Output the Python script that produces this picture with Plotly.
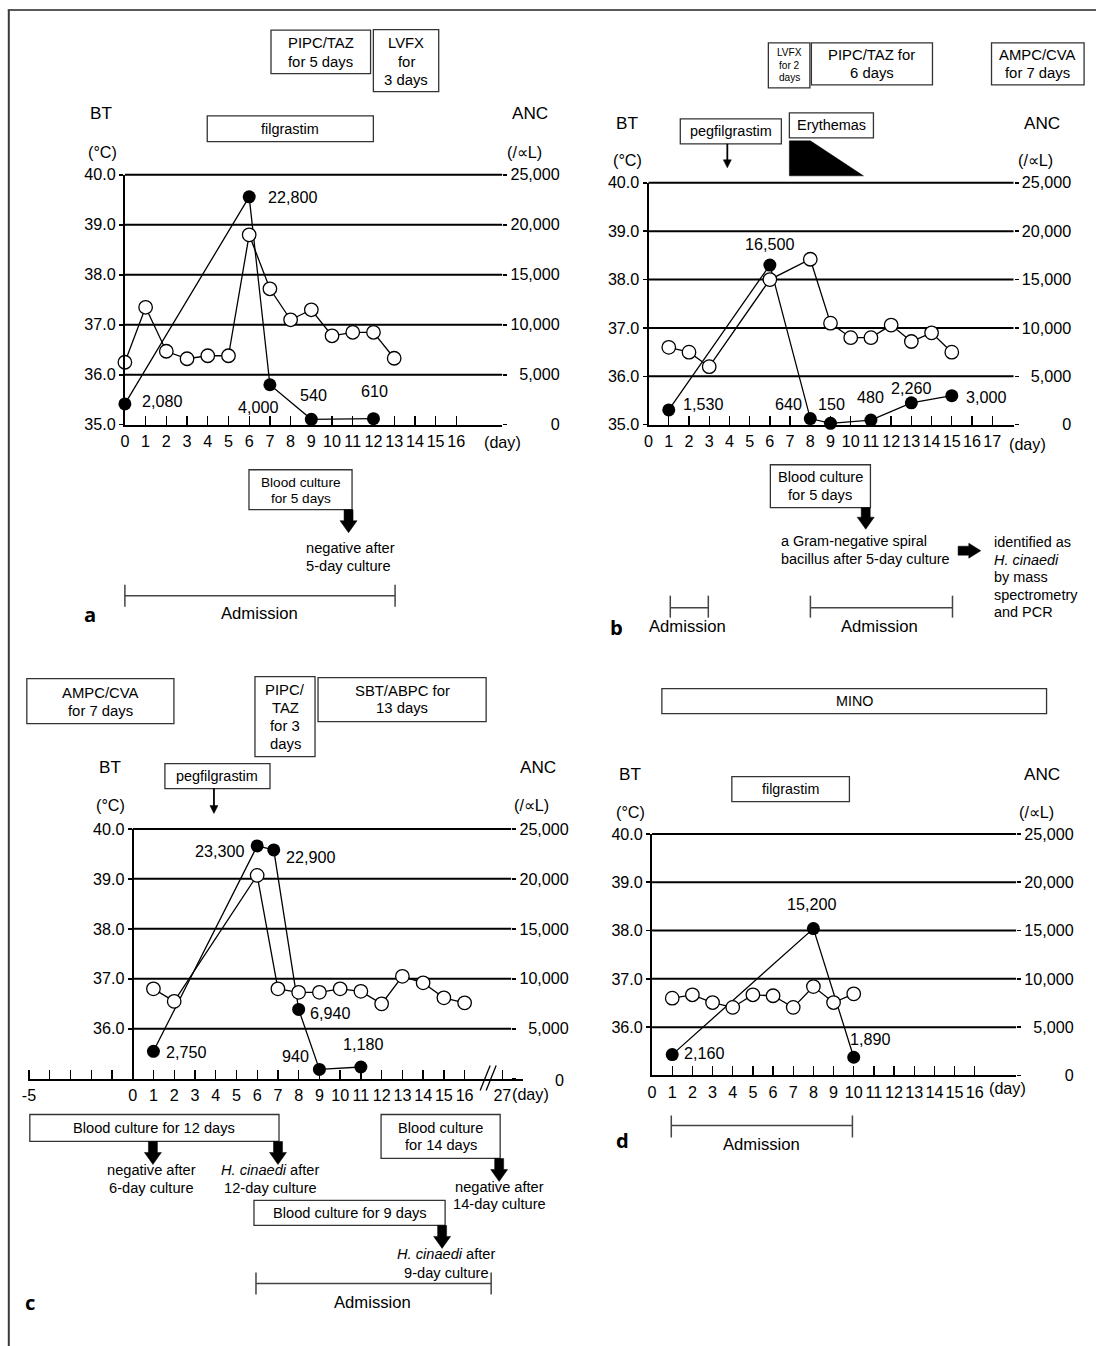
import plotly.graph_objects as go

W, H = 1096, 1346
# small correction so that the photographed page lines up with the target pixel grid
SX, OX = 0.9938, 6.2
SY, OY = 0.987, 8.1
FONT = "Liberation Sans, Arial, Helvetica, sans-serif"
BOLD_FONT = "Open Sans, Noto Sans, sans-serif"

# ---------------- data ----------------
# panel a
a_bt_day = [0, 1, 2, 3, 4, 5, 6, 7, 8, 9, 10, 11, 12, 13]
a_bt = [36.25, 37.35, 36.47, 36.32, 36.38, 36.38, 38.8, 37.72, 37.1, 37.3, 36.78, 36.85, 36.85, 36.33]
a_anc_day = [0, 6, 7, 9, 12]
a_anc = [2080, 22800, 4000, 540, 610]

# panel b
b_bt_day = [1, 2, 3, 6, 8, 9, 10, 11, 12, 13, 14, 15]
b_bt = [36.6, 36.5, 36.2, 38.0, 38.42, 37.1, 36.8, 36.8, 37.06, 36.72, 36.9, 36.5]
b_anc_day = [1, 6, 8, 9, 11, 13, 15]
b_anc = [1530, 16500, 640, 150, 480, 2260, 3000]

# panel c
c_bt_day = [1, 2, 6, 7, 8, 9, 10, 11, 12, 13, 14, 15, 16]
c_bt = [36.8, 36.55, 39.07, 36.8, 36.73, 36.73, 36.8, 36.75, 36.5, 37.05, 36.92, 36.62, 36.52]
c_anc_day = [1, 6, 6.8, 8, 9, 11]
c_anc = [2750, 23300, 22900, 6940, 940, 1180]

# panel d
d_bt_day = [1, 2, 3, 4, 5, 6, 7, 8, 9, 10]
d_bt = [36.6, 36.67, 36.51, 36.41, 36.67, 36.65, 36.41, 36.84, 36.51, 36.69]
d_anc_day = [1, 8, 10]
d_anc = [2160, 15200, 1890]

# axis ticks
a_day_ticks = list(range(0, 17))
b_day_ticks = list(range(0, 18))
d_day_ticks = list(range(0, 17))
c_day_ticks = [-5, -4, -3, -2, -1, 0] + list(range(1, 17)) + [17.82]
c_day_text = ["-5", "", "", "", "", "0"] + [str(i) for i in range(1, 17)] + ["27"]
bt_ticks_full = [35, 36, 37, 38, 39, 40]
bt_ticks_short = [36, 37, 38, 39, 40]
bt_grid = [36, 37, 38, 39, 40]
anc_ticks = [0, 5000, 10000, 15000, 20000, 25000]

# ---------------- geometry (target pixels) ----------------
GEOM = {
    "a": dict(x0=125.0, step=20.7, left=125.0, right=502.0, top=174.0, bottom=424.0, grid_right=502.0),
    "b": dict(x0=648.3, step=20.2, left=648.3, right=1013.0, top=182.0, bottom=424.0, grid_right=1013.0),
    "c": dict(x0=132.8, step=20.73, left=28.0, right=523.0, top=828.3, bottom=1078.3, grid_right=511.0),
    "d": dict(x0=651.8, step=20.15, left=651.8, right=1015.6, top=833.3, bottom=1075.0, grid_right=1015.6),
}


def FX(x):
    return ((x - OX) / SX) / W


def FY(y):
    return 1 - ((y - OY) / SY) / H


fig = go.Figure()
layout = {}
shapes = []
annotations = []


def fs(s):
    return round(s * 1.01, 2)


TICKFONT = dict(family=FONT, size=fs(16), color="black")
NBSP = "\u00a0"


def right_aligned(labels):
    # pad with no-break spaces (0.278 em) so that labels end flush on the right
    def width(s):
        return sum(0.556 if ch.isdigit() else 0.278 for ch in s)
    wmax = max(width(s) for s in labels)
    return [NBSP * int(round((wmax - width(s)) / 0.278)) + s for s in labels]


def text(x, y, s, size=14.5, anchor="center", family=FONT):
    annotations.append(dict(
        x=FX(x), y=FY(y), xref="paper", yref="paper", text=s, showarrow=False,
        xanchor=anchor, yanchor="middle", font=dict(family=family, size=fs(size), color="black")))


def setup_axes(key, xn, yan, ybn, xtickvals, xticktext, bt_ticks, free=False):
    g = GEOM[key]
    xname = "xaxis" if xn == 1 else f"xaxis{xn}"
    xref = "x" if xn == 1 else f"x{xn}"
    yan_name = "yaxis" if yan == 1 else f"yaxis{yan}"
    yan_ref = "y" if yan == 1 else f"y{yan}"
    ybn_name = f"yaxis{ybn}"
    rng = [(g["left"] - g["x0"]) / g["step"], (g["right"] - g["x0"]) / g["step"]]
    layout[xname] = dict(
        domain=[FX(g["left"]), FX(g["right"])], range=rng, anchor=yan_ref,
        showline=True, linecolor="black", linewidth=2,
        ticks="inside", ticklen=9, tickwidth=1.3, tickcolor="black",
        tickvals=xtickvals, ticktext=xticktext, tickangle=0, tickfont=TICKFONT,
        ticklabelstandoff=1,
        showgrid=False, zeroline=False, fixedrange=True,
    )
    anc_text = right_aligned([f"{v:,}" for v in anc_ticks])
    if free:
        # the zero label of this panel sits beside the "(day)" caption; it is written separately
        anc_text = [("" if v == 0 else t) for v, t in zip(anc_ticks, anc_text)]
        text(559, 1080, f"{anc_ticks[0]:,}", size=16)
    ya = dict(
        domain=[FY(g["bottom"]), FY(g["top"])], range=[0, 25000], side="right", anchor=xref,
        tickvals=anc_ticks, ticktext=anc_text,
        ticks="outside", ticklen=4, tickwidth=1.5, tickcolor="black", tickfont=TICKFONT,
        ticklabelstandoff=0,
        showgrid=False, zeroline=False, showline=False, fixedrange=True,
    )
    yb = dict(
        overlaying=yan_ref, side="left", anchor=xref, range=[35, 40],
        tickvals=bt_ticks, ticktext=[f"{v:.1f}" for v in bt_ticks],
        ticks="outside", ticklen=4, tickwidth=1.5, tickcolor="black", tickfont=TICKFONT,
        showline=True, linecolor="black", linewidth=2,
        showgrid=False, zeroline=False, fixedrange=True,
    )
    if free:
        ya.update(anchor="free", position=FX(g["grid_right"]))
        yb.update(anchor="free", position=FX(g["x0"]))
    layout[yan_name] = ya
    layout[ybn_name] = yb
    # horizontal reference lines at each whole degree
    for v in bt_grid:
        yy = g["bottom"] - (v - 35) / 5 * (g["bottom"] - g["top"])
        shapes.append(dict(type="line", xref="paper", yref="paper", layer="below",
                           x0=FX(g["x0"]), x1=FX(g["grid_right"]), y0=FY(yy), y1=FY(yy),
                           line=dict(color="black", width=2)))
    return xref, yan_ref, f"y{ybn}"


def add_series(xref, yanc, ybt, anc_day, anc, bt_day, bt):
    fig.add_trace(go.Scatter(
        x=anc_day, y=anc, xaxis=xref, yaxis=yanc, mode="lines+markers",
        line=dict(color="black", width=1.3), marker=dict(size=13, color="black"),
        cliponaxis=False, showlegend=False, hoverinfo="skip"))
    fig.add_trace(go.Scatter(
        x=bt_day, y=bt, xaxis=xref, yaxis=ybt, mode="lines+markers",
        line=dict(color="black", width=1.3),
        marker=dict(size=13.5, color="white", line=dict(color="black", width=1.3)),
        cliponaxis=False, showlegend=False, hoverinfo="skip"))


def point_labels(xref, yref, days, vals, offsets):
    for d, v, (anc, dx, dy) in zip(days, vals, offsets):
        annotations.append(dict(
            x=d, y=v, xref=xref, yref=yref, text=f"{v:,}", showarrow=False,
            xanchor=anc, yanchor="middle", xshift=dx, yshift=dy,
            font=dict(family=FONT, size=fs(16), color="black")))


def lines(x, ys, strs, size=14.5, anchor="center"):
    for y, s in zip(ys, strs):
        text(x, y, s, size=size, anchor=anchor)


def box(x0, y0, x1, y1):
    shapes.append(dict(type="rect", xref="paper", yref="paper",
                       x0=FX(x0), x1=FX(x1), y0=FY(y1), y1=FY(y0),
                       line=dict(color="#333333", width=1.3), fillcolor="rgba(0,0,0,0)"))


def seg(x0, y0, x1, y1, color="black", width=1.5):
    shapes.append(dict(type="line", xref="paper", yref="paper",
                       x0=FX(x0), y0=FY(y0), x1=FX(x1), y1=FY(y1),
                       line=dict(color=color, width=width)))


def poly(pts):
    path = "M " + " L ".join(f"{FX(x):.5f},{FY(y):.5f}" for x, y in pts) + " Z"
    shapes.append(dict(type="path", xref="paper", yref="paper", path=path,
                       fillcolor="black", line=dict(color="black", width=0.5)))


def down_arrow(cx, y0, y1, shaft=4.5, head=8.5, hh=12):
    poly([(cx - shaft, y0), (cx + shaft, y0), (cx + shaft, y1 - hh), (cx + head, y1 - hh),
          (cx, y1), (cx - head, y1 - hh), (cx - shaft, y1 - hh)])


def right_arrow(x0, x1, cy, shaft=4.5, head=7.5, hw=12):
    poly([(x0, cy - shaft), (x1 - hw, cy - shaft), (x1 - hw, cy - head), (x1, cy),
          (x1 - hw, cy + head), (x1 - hw, cy + shaft), (x0, cy + shaft)])


def thin_arrow(cx, y0, y1):
    seg(cx, y0, cx, y1 - 6, width=1.8)
    poly([(cx - 4, y1 - 8), (cx + 4, y1 - 8), (cx, y1)])


def bracket(x0, x1, y, t0, t1, color="#444444"):
    seg(x0, y, x1, y, color=color, width=1.5)
    seg(x0, t0, x0, t1, color=color, width=1.5)
    seg(x1, t0, x1, t1, color=color, width=1.5)


def headers(bt_x, ct_x, anc_x, ul_x, y1, y2):
    text(bt_x, y1, "BT", size=17)
    text(ct_x, y2, "(°C)", size=16)
    text(anc_x, y1, "ANC", size=17)
    text(ul_x, y2, "(/∝L)", size=16)


# ---------------- panel a ----------------
xa, ya_anc, ya_bt = setup_axes("a", 1, 1, 2, a_day_ticks, [str(v) for v in a_day_ticks], bt_ticks_full)
add_series(xa, ya_anc, ya_bt, a_anc_day, a_anc, a_bt_day, a_bt)
point_labels(xa, ya_anc, a_anc_day, a_anc,
             [("left", 15, 3), ("left", 17, 0), ("center", -11.5, -22), ("center", 2, 24), ("center", 1, 28)])
headers(101.4, 103, 530, 524, 112, 150.7)
text(502, 441, "(day)", size=16)
box(271, 29.3, 370.5, 72.7)
lines(320.7, [42.3, 60.7], ["PIPC/TAZ", "for 5 days"], size=14.7)
box(373.3, 28.7, 438.6, 90.7)
lines(406, [42.3, 60.7, 78.7], ["LVFX", "for", "3 days"], size=14.7)
box(207.3, 115, 373.3, 140.7)
text(290.3, 127.8, "filgrastim", size=14.3)
box(249, 469, 352, 509)
lines(300.5, [482, 497.3], ["Blood culture", "for 5 days"], size=13.5)
down_arrow(348.5, 509, 532)
lines(304, [547.3, 565], ["negative after", "5-day culture"], size=14.5, anchor="left")
bracket(125, 395, 595, 584, 606)
text(259.3, 613, "Admission", size=16.5)
text(90, 613, "<b>a</b>", size=20, family=BOLD_FONT)

# ---------------- panel b ----------------
xb, yb_anc, yb_bt = setup_axes("b", 2, 3, 4, b_day_ticks, [str(v) for v in b_day_ticks], bt_ticks_full)
add_series(xb, yb_anc, yb_bt, b_anc_day, b_anc, b_bt_day, b_bt)
point_labels(xb, yb_anc, b_anc_day, b_anc,
             [("left", 12.5, 6), ("center", 0, 21), ("right", -6, 15), ("center", 1, 19.5),
              ("center", 0, 23), ("center", 0, 15), ("left", 12.5, -1)])
headers(626.6, 627.7, 1041.5, 1035, 122, 159)
text(1026.5, 443, "(day)", size=16)
box(768, 42, 809.5, 87)
lines(788.7, [51.7, 64.3, 76.7], ["LVFX", "for 2", "days"], size=10)
box(811, 42, 932, 84)
lines(871.5, [54, 71.7], ["PIPC/TAZ for", "6 days"], size=14.7)
box(991, 42, 1083.5, 84)
lines(1037.2, [54, 71.7], ["AMPC/CVA", "for 7 days"], size=14.7)
box(680, 118, 781, 143)
text(730.5, 130.5, "pegfilgrastim", size=14.3)
thin_arrow(727, 143, 167)
box(789, 112, 873, 137)
text(831, 124.5, "Erythemas", size=14.3)
poly([(789, 140), (810, 140), (863, 175), (789, 175)])
box(770, 464, 870, 507)
lines(820, [476.7, 494], ["Blood culture", "for 5 days"], size=14.5)
down_arrow(865.3, 507, 528.5)
lines(779, [540.7, 558.3], ["a Gram-negative spiral", "bacillus after 5-day culture"], size=14.3, anchor="left")
right_arrow(957.6, 980.3, 550)
lines(991, [541.7, 559, 576.7, 594, 611.3],
      ["identified as", "<i>H. cinaedi</i>", "by mass", "spectrometry", "and PCR"], size=14.3, anchor="left")
bracket(670, 708, 607, 595, 617)
text(687.5, 626, "Admission", size=16.5)
bracket(810, 952, 607, 595, 617)
text(879, 626, "Admission", size=16.5)
text(616, 626, "<b>b</b>", size=20, family=BOLD_FONT)

# ---------------- panel c ----------------
xc, yc_anc, yc_bt = setup_axes("c", 3, 5, 6, c_day_ticks, c_day_text, bt_ticks_short, free=True)
add_series(xc, yc_anc, yc_bt, c_anc_day, c_anc, c_bt_day, c_bt)
point_labels(xc, yc_anc, c_anc_day, c_anc,
             [("left", 10.5, -1), ("right", -11, -5), ("left", 10, -7), ("left", 9.5, -4),
              ("right", -8, 13), ("center", 2, 23.5)])
# axis break marks
seg(480, 1090, 490, 1065, width=1.3)
seg(486, 1090, 496, 1065, width=1.3)
headers(110, 111, 537.7, 531, 766, 804)
text(530.5, 1094, "(day)", size=16)
box(27, 678, 174, 723)
lines(100.5, [692.3, 710], ["AMPC/CVA", "for 7 days"], size=14.7)
box(255, 676, 315, 756)
lines(285, [689.3, 707.3, 725.7, 743.3], ["PIPC/", "TAZ", "for 3", "days"], size=14.7)
box(318, 677, 486, 721)
lines(402, [690, 707.7], ["SBT/ABPC for", "13 days"], size=14.7)
box(165, 763, 270, 788)
text(217.5, 775.5, "pegfilgrastim", size=14.3)
thin_arrow(214, 788, 813)
box(30, 1114, 279, 1141)
text(154.5, 1127.7, "Blood culture for 12 days", size=14.5)
down_arrow(153, 1141, 1164)
down_arrow(278, 1141, 1164)
lines(152, [1170, 1187.7], ["negative after", "6-day culture"], size=14.5)
lines(271, [1170, 1187.7], ["<i>H. cinaedi</i> after", "12-day culture"], size=14.5)
box(381, 1114, 500, 1158)
lines(440.5, [1127.3, 1145], ["Blood culture", "for 14 days"], size=14.5)
down_arrow(499, 1158, 1181)
lines(499, [1186.7, 1203.3], ["negative after", "14-day culture"], size=14.5)
box(254, 1200, 445, 1225)
text(349.5, 1212.7, "Blood culture for 9 days", size=14.5)
down_arrow(442, 1225, 1248)
lines(446, [1254, 1272.7], ["<i>H. cinaedi</i> after", "9-day culture"], size=14.5)
bracket(256, 491, 1283, 1272, 1294)
text(372, 1302, "Admission", size=16.5)
text(30, 1302, "<b>c</b>", size=20, family=BOLD_FONT)

# ---------------- panel d ----------------
xd, yd_anc, yd_bt = setup_axes("d", 4, 7, 8, d_day_ticks, [str(v) for v in d_day_ticks], bt_ticks_short)
add_series(xd, yd_anc, yd_bt, d_anc_day, d_anc, d_bt_day, d_bt)
point_labels(xd, yd_anc, d_anc_day, d_anc,
             [("left", 10, 2), ("center", -2, 25), ("left", -6, 18)])
headers(629.4, 630.5, 1041.5, 1035.5, 773, 811)
text(1006.5, 1088, "(day)", size=16)
box(661.6, 688, 1046, 713)
text(853.8, 700.5, "MINO", size=14.2)
box(731.5, 776, 849, 801)
text(790.2, 788.5, "filgrastim", size=14.2)
bracket(671, 852, 1125, 1115, 1137)
text(761, 1144, "Admission", size=16.5)
text(622, 1140, "<b>d</b>", size=20, family=BOLD_FONT)

# ---------------- frame ----------------
seg(8, 9.2, 1100, 9.2, color="#5a5a5a", width=2)
seg(9, 9.2, 9, 1360, color="#3a3a3a", width=2)

fig.update_layout(
    width=W, height=H, margin=dict(l=0, r=0, t=0, b=0),
    paper_bgcolor="white", plot_bgcolor="rgba(0,0,0,0)",
    showlegend=False, shapes=shapes, annotations=annotations,
    font=dict(family=FONT, color="black"),
    **layout,
)

page_css = ("document.documentElement.style.margin='0';document.documentElement.style.padding='0';"
            "document.documentElement.style.overflow='hidden';"
            "document.body.style.margin='0';document.body.style.padding='0';"
            "document.body.style.overflow='hidden';")
fig.write_html("out.html", config={"displayModeBar": False, "staticPlot": True}, post_script=page_css)
